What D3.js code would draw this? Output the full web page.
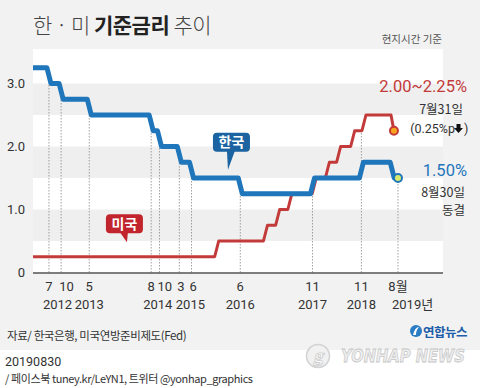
<!DOCTYPE html>
<html><head><meta charset="utf-8">
<script src="https://cdn.jsdelivr.net/npm/d3@7"></script>
<style>
html,body{margin:0;padding:0;background:#fff;}
svg{display:block;font-family:"Noto Sans CJK KR","Noto Sans",sans-serif;}
</style></head>
<body>
<svg id="c" width="480" height="388"></svg>
<script>
// ---------- data ----------
const koreaDates = ["2012-03-15","2012-07-12","2012-10-11","2013-05-09","2014-08-14","2014-10-15","2015-03-12","2015-06-11","2016-06-09","2017-11-30","2018-11-30","2019-07-18"];
const koreaRates = [3.25,3.00,2.75,2.50,2.25,2.00,1.75,1.50,1.25,1.50,1.75,1.50];
const koreaEnd = "2019-08-30";
const usDates = ["2012-03-15","2015-12-16","2016-12-14","2017-03-15","2017-06-14","2017-12-13","2018-03-21","2018-06-13","2018-09-26","2018-12-19","2019-07-31"];
const usRates = [0.25,0.50,0.75,1.00,1.25,1.50,1.75,2.00,2.25,2.50,2.25];
const usEnd = "2019-07-31";
const tickDates = ["2012-07-12","2012-10-11","2013-05-09","2014-08-14","2014-10-15","2015-03-12","2015-06-11","2016-06-09","2017-11-30","2018-11-30","2019-08-30"];
const tickMonths = ["7","10","5","8","10","3","6","6","11","11","8월"];
const yearLabels = ["2012","2013","2014","2015","2016","2017","2018","2019년"];
const yTicks = [0,1,2,3];
const yTickLabels = ["0","1.0","2.0","3.0"];
const bandRanges = [[0.5,1.0],[1.5,2.0],[2.5,3.0]];
const usLabel = ["2.00~2.25%","7월31일","(0.25%p",")"];
const krLabel = ["1.50%","8월30일","동결"];
const calloutKR = {text:"한국", date:"2016-03-09", value:1.63};
const calloutUS = {text:"미국", date:"2014-02-14", value:0.48};

// ---------- setup ----------
const P = d3.timeParse("%Y-%m-%d");
const svg = d3.select("#c");
const W = 480, H = 388;
const x = d3.scaleTime().domain([P("2012-03-15"), P("2020-07-31")]).range([33, 443]);
const y = d3.scaleLinear().domain([0, 3.5]).range([272.5, 52]);

const BLUE = "#1f76bb", BLUE_D = "#1b63a1", RED = "#c33a3a", RED_D = "#c1242c", TXT = "#333";

// backgrounds
svg.append("rect").attr("x",0).attr("y",0).attr("width",W).attr("height",350).attr("fill","#f2f2f2");
svg.append("rect").attr("x",0).attr("y",350).attr("width",W).attr("height",H-350).attr("fill","#fff");
svg.append("rect").attr("x",33).attr("y",49).attr("width",410).attr("height",y(0)-49).attr("fill","#fff");
svg.selectAll(".band").data(bandRanges).join("rect")
  .attr("x",33).attr("width",410)
  .attr("y",d=>y(d[1])).attr("height",d=>y(d[0])-y(d[1]))
  .attr("fill","#efefef");

// title
const title = svg.append("text").attr("x",33).attr("y",33).attr("font-size",21).attr("fill",TXT).attr("letter-spacing",-0.5);
title.append("tspan").text("한 · 미 ").attr("font-weight",300).attr("fill","#444");
title.append("tspan").text("기준금리").attr("font-weight",700).attr("fill","#222");
title.append("tspan").text(" 추이").attr("font-weight",300).attr("fill","#444");
svg.append("text").attr("x",442).attr("y",43).attr("text-anchor","end").attr("font-size",10.5).attr("fill","#555").text("현지시간 기준");

// y labels
svg.selectAll(".yl").data(yTicks).join("text")
  .attr("x",25).attr("y",d=>y(d)).attr("dy","0.36em").attr("text-anchor","end")
  .attr("font-size",13).attr("fill",TXT).attr("font-family","Roboto, 'Noto Sans', sans-serif")
  .text((d,i)=>yTickLabels[i]);

// step series builder
const DAY = 864e5;
function stepPoints(dates, rates, endDate){
  const pts = [[P(dates[0]), rates[0]]];
  const end = P(endDate);
  for(let i=1;i<dates.length;i++){
    const d = P(dates[i]);
    if(+d >= +end){
      pts.push([new Date(+d-22*DAY), rates[i-1]]);
      pts.push([d, rates[i]]);
    } else {
      pts.push([new Date(+d-15*DAY), rates[i-1]]);
      pts.push([new Date(+d+15*DAY), rates[i]]);
    }
  }
  if(+pts[pts.length-1][0] < +end) pts.push([end, rates[rates.length-1]]);
  return pts;
}
function valueAt(dates, rates, endDate, d){
  if(+d > +P(endDate)) return null;
  let v = rates[0];
  for(let i=0;i<dates.length;i++) if(+P(dates[i]) <= +d) v = rates[i];
  return v;
}

// dotted lines
const tickData = tickDates.map((s,i)=>{
  const d = P(s);
  const k = valueAt(koreaDates,koreaRates,koreaEnd,d);
  const u = valueAt(usDates,usRates,usEnd,d);
  return {d, label:tickMonths[i], top: Math.max(k ?? 0, u ?? 0)};
});
svg.selectAll(".dl").data(tickData).join("line")
  .attr("x1",t=>x(t.d)).attr("x2",t=>x(t.d))
  .attr("y1",y(0)).attr("y2",t=>y(t.top))
  .attr("stroke","#888").attr("stroke-width",0.8).attr("stroke-dasharray","1.5,1.5");

// axis line
svg.append("line").attr("x1",33).attr("x2",443).attr("y1",273).attr("y2",273).attr("stroke","#555").attr("stroke-width",1.5);

// month labels
const mPos = tickData.map((t,i)=>{
  const xx = x(t.d);
  const prev = i>0 ? x(tickData[i-1].d) : -999;
  return (xx-prev < 20) ? {x:xx-2, anchor:"start", c:xx+5} : {x:xx, anchor:"middle", c:xx};
});
svg.selectAll(".ml").data(tickData).join("text")
  .attr("x",(t,i)=>mPos[i].x).attr("y",291).attr("text-anchor",(t,i)=>mPos[i].anchor)
  .attr("font-size",13).attr("fill",TXT).attr("font-family","Roboto, 'Noto Sans CJK KR', sans-serif")
  .text(t=>t.label);
// year labels: centred under their month group
const yearGroups = d3.groups(tickData.map((t,i)=>({y:t.d.getFullYear(), c:mPos[i].c, x:x(t.d)})), g=>g.y);
svg.selectAll(".yr").data(yearGroups).join("text")
  .attr("x",(g,i)=> i===yearGroups.length-1 ? g[1][0].x-6 : d3.mean(g[1],e=>e.c))
  .attr("text-anchor",(g,i)=> i===yearGroups.length-1 ? "start" : "middle")
  .attr("y",309).attr("font-size",13).attr("fill",TXT).attr("font-family","Roboto, 'Noto Sans CJK KR', sans-serif")
  .text((g,i)=>yearLabels[i]);

// lines
const line = d3.line().x(p=>x(p[0])).y(p=>y(p[1]));
svg.append("path").datum(stepPoints(usDates,usRates,usEnd)).attr("d",line)
  .attr("fill","none").attr("stroke",RED).attr("stroke-width",3).attr("stroke-linejoin","round");
svg.append("path").datum(stepPoints(koreaDates,koreaRates,koreaEnd)).attr("d",line)
  .attr("fill","none").attr("stroke",BLUE).attr("stroke-width",5).attr("stroke-linejoin","round");

// end dots
svg.append("circle").attr("cx",x(P(usEnd))).attr("cy",y(usRates[usRates.length-1])).attr("r",4)
  .attr("fill","#f7a41c").attr("stroke",RED).attr("stroke-width",2);
svg.append("circle").attr("cx",x(P(koreaEnd))).attr("cy",y(koreaRates[koreaRates.length-1])).attr("r",4)
  .attr("fill","#d7ea6c").attr("stroke",BLUE).attr("stroke-width",2);

// callouts
function callout(c, color, tipLeft){
  const tx = x(P(c.date)), ty = y(c.value);
  const bw = 37, bh = 19, ph = tipLeft ? 18 : 9;
  const bx = tipLeft ? tx-15 : tx-21, by = ty-ph-bh;
  const g = svg.append("g");
  g.append("rect").attr("x",bx).attr("y",by).attr("width",bw).attr("height",bh).attr("rx",4).attr("fill",color);
  const pts = tipLeft ? [[tx-1,by+bh-1],[tx+7,by+bh-1],[tx,ty]] : [[tx-7,by+bh-1],[tx+1,by+bh-1],[tx,ty]];
  g.append("path").attr("d","M"+pts.map(p=>p.join(",")).join("L")+"Z").attr("fill",color);
  g.append("text").attr("x",bx+bw/2).attr("y",by+bh/2).attr("dy","0.36em").attr("text-anchor","middle")
    .attr("font-size",14).attr("font-weight",700).attr("fill","#fff").text(c.text);
}
callout(calloutKR, BLUE_D, true);
callout(calloutUS, RED_D, false);

// right-side labels
svg.append("text").attr("x",467).attr("y",92).attr("text-anchor","end").attr("font-size",16.5).attr("fill",RED)
  .attr("font-family","Roboto, 'Noto Sans', sans-serif").text(usLabel[0]);
svg.append("text").attr("x",463).attr("y",114).attr("text-anchor","end").attr("font-size",12.5).attr("fill",TXT).text(usLabel[1]);
svg.append("text").attr("x",455).attr("y",133).attr("text-anchor","end").attr("font-size",12.5).attr("fill",TXT)
  .attr("font-family","Roboto, 'Noto Sans', sans-serif").text(usLabel[2]);
svg.append("path").attr("d","M456.5,124 h4 v4 h2.5 l-4.5,5 l-4.5,-5 h2.5 z").attr("fill","#111");
svg.append("text").attr("x",464).attr("y",133).attr("text-anchor","start").attr("font-size",12.5).attr("fill",TXT)
  .attr("font-family","Roboto, 'Noto Sans', sans-serif").text(usLabel[3]);

svg.append("text").attr("x",467).attr("y",176).attr("text-anchor","end").attr("font-size",16.5).attr("fill",BLUE)
  .attr("font-family","Roboto, 'Noto Sans', sans-serif").text(krLabel[0]);
svg.append("text").attr("x",465).attr("y",197).attr("text-anchor","end").attr("font-size",12.5).attr("fill",TXT).text(krLabel[1]);
svg.append("text").attr("x",465).attr("y",215).attr("text-anchor","end").attr("font-size",12.5).attr("fill",TXT).text(krLabel[2]);

// footer
svg.append("text").attr("x",7).attr("y",340).attr("font-size",11.5).attr("fill",TXT).attr("letter-spacing",-0.4)
  .text("자료/ 한국은행, 미국연방준비제도(Fed)");
// logo
svg.append("circle").attr("cx",416).attr("cy",331).attr("r",6).attr("fill","#2a7cc4");
svg.append("path").attr("d","M413,335 q2,-8 6,-8 q-3,3 -3,8 z").attr("fill","#fff");
svg.append("text").attr("x",423).attr("y",337).attr("font-size",12.5).attr("font-weight",700).attr("fill","#1d5ea8")
  .attr("letter-spacing",-0.5).text("연합뉴스");
// watermark
svg.append("circle").attr("cx",318).attr("cy",356).attr("r",11.5).attr("fill","#f1f1f1").attr("stroke","#d2d2d2").attr("stroke-width",1.5);
svg.append("text").attr("x",318).attr("y",356).attr("dy","0.36em").attr("text-anchor","middle").attr("font-size",16)
  .attr("font-style","italic").attr("font-weight",700).attr("fill","#fff").attr("stroke","#cacaca").attr("stroke-width",0.8).text("g");
svg.append("text").attr("x",341).attr("y",362).attr("font-size",18).attr("font-style","italic").attr("font-weight",900)
  .attr("font-family","'DejaVu Sans', sans-serif").attr("textLength",124).attr("lengthAdjust","spacingAndGlyphs")
  .attr("fill","#eeeeee").attr("stroke","#c6c6c6").attr("stroke-width",0.8).text("YONHAP NEWS");

svg.append("text").attr("x",5).attr("y",366).attr("font-size",12.5).attr("fill",TXT)
  .attr("font-family","Roboto, 'Noto Sans', sans-serif").text("20190830");
svg.append("text").attr("x",5).attr("y",383).attr("font-size",11).attr("fill",TXT).attr("letter-spacing",-0.4)
  .text("/ 페이스북 tuney.kr/LeYN1, 트위터 @yonhap_graphics");
</script>
</body></html>
